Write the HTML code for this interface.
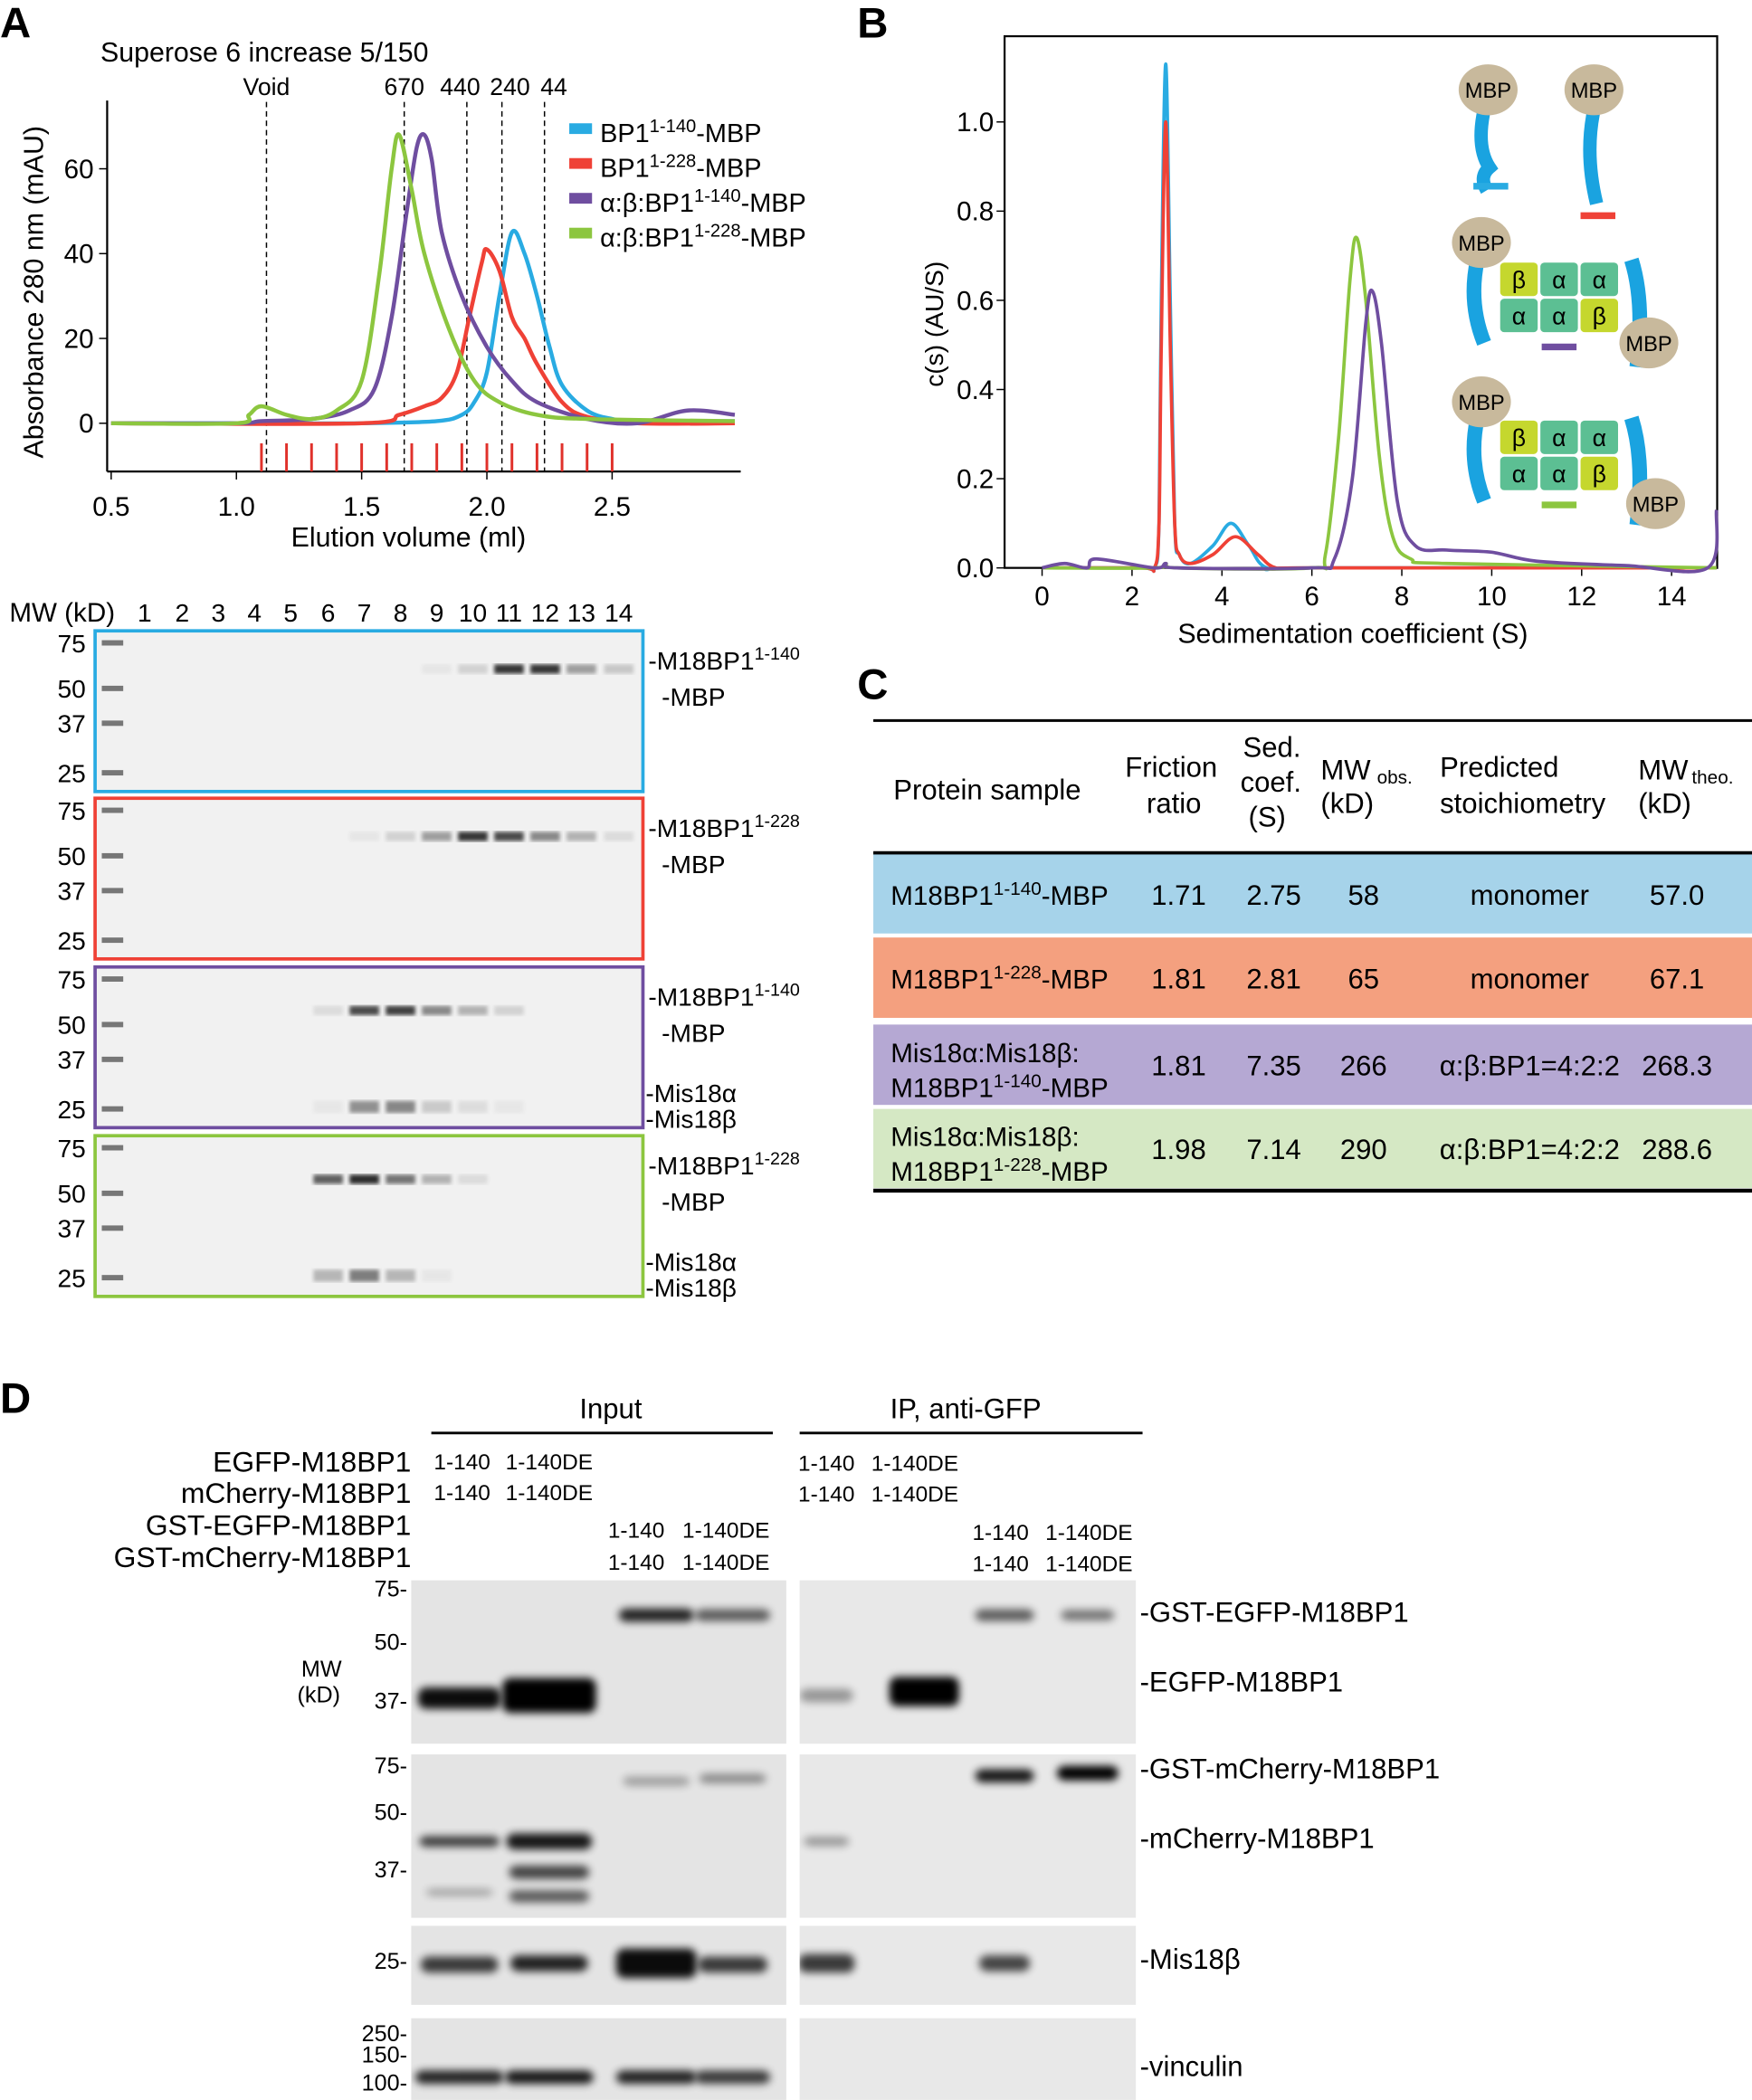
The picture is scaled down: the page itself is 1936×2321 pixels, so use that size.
<!DOCTYPE html>
<html><head><meta charset="utf-8"><style>
html,body{margin:0;padding:0;background:#fff}
svg{display:block;font-family:"Liberation Sans",Arial,sans-serif}
</style></head><body>
<svg id="fig" width="1936" height="2321" viewBox="0 0 1308 1568" xmlns="http://www.w3.org/2000/svg">
<defs><filter id="blur"><feGaussianBlur stdDeviation="1.5"/></filter><filter id="blur2" x="-30%" y="-100%" width="160%" height="300%"><feGaussianBlur stdDeviation="3"/></filter>
<clipPath id="clipIn"><rect x="307" y="1175" width="280" height="400"/></clipPath>
<clipPath id="clipIP"><rect x="597" y="1175" width="251" height="400"/></clipPath></defs>
<g id="panelA"></g>
<g id="panelB"></g>
<g id="gels"></g>
<g id="tableC"></g>
<g id="panelD"></g>
</svg>
<script>
// ---- Panel A data ----
const seriesA_names=["BP1^1-140-MBP","BP1^1-228-MBP","α:β:BP1^1-140-MBP","α:β:BP1^1-228-MBP"];
const seriesA_colors=["#29abe2","#ef4136","#6f4ea0","#8cc63f"];
const blueX=[0.5,1.0,1.5,1.8,1.9,1.95,2.0,2.05,2.1,2.15,2.2,2.25,2.3,2.4,2.5,2.6,2.99];
const blueY=[0,0,0,0.5,2,5,12,30,45,40,30,18,9,3,1,0.5,0.5];
const redX=[0.5,1.5,1.65,1.75,1.82,1.88,1.93,1.98,2.0,2.05,2.1,2.15,2.2,2.3,2.4,2.6,2.99];
const redY=[0,0,2,4,6,12,25,38,41,36,25,20,14,5,1.5,0,0];
const purpleX=[0.5,1.0,1.1,1.3,1.45,1.55,1.62,1.68,1.72,1.75,1.78,1.82,1.9,2.0,2.1,2.2,2.4,2.6,2.8,2.99];
const purpleY=[0,0,0.5,1,3,8,25,50,65,68,62,45,30,18,10,5,1,0,3,2];
const greenX=[0.5,1.0,1.05,1.1,1.2,1.3,1.4,1.5,1.57,1.62,1.65,1.7,1.75,1.85,1.95,2.05,2.2,2.4,2.99];
const greenY=[0,0,2,4,2,1,3,10,35,60,68,55,40,22,10,5,2,1,0.5];
const xTicksA=[0.5,1.0,1.5,2.0,2.5];
const yTicksA=[0,20,40,60];
const markersA=[["Void",1.12],["670",1.67],["440",1.92],["240",2.06],["44",2.23]];
// ---- Panel B data ----
const xTicksB=[0,2,4,6,8,10,12,14];
const yTicksB=[0.0,0.2,0.4,0.6,0.8,1.0];
const bBlueX=[0,2.2,2.5,2.6,2.65,2.75,2.85,2.95,3.05,3.3,3.8,4.2,4.6,5.0,6,15];
const bBlueY=[0,0,0,0.1,0.6,1.13,0.6,0.1,0.03,0.01,0.05,0.1,0.05,0,0,0];
const bRedX=[0,2.2,2.5,2.6,2.65,2.75,2.85,2.95,3.05,3.3,3.8,4.3,4.8,5.2,6,15];
const bRedY=[0,0,0,0.1,0.5,1.0,0.5,0.1,0.03,0.01,0.03,0.07,0.03,0,0,0];
const bGreenX=[0,2.5,2.75,3.0,6,6.3,6.6,6.85,7.0,7.2,7.5,7.8,8.2,9,15];
const bGreenY=[0,0,0.01,0,0,0.03,0.3,0.65,0.74,0.6,0.25,0.07,0.02,0.01,0];
const bPurpleX=[0,0.5,1.0,1.2,2.5,2.75,3.0,6,6.5,6.9,7.2,7.35,7.55,7.9,8.3,9,10,11,13,14.8,15];
const bPurpleY=[0,0.01,0,0.02,0,0.01,0,0,0.02,0.2,0.55,0.62,0.5,0.15,0.05,0.04,0.035,0.015,0.005,0,0.13];

const NS="http://www.w3.org/2000/svg";
function el(parent,tag,attrs,text){const e=document.createElementNS(NS,tag);for(const k in attrs)e.setAttribute(k,attrs[k]);if(text!==undefined)e.textContent=text;parent.appendChild(e);return e;}
function supText(parent,x,y,size,parts,anchor){
  const t=el(parent,"text",{x:x,y:y,"font-size":size,"text-anchor":anchor||"start"});
  parts.forEach(p=>{el(t,"tspan",p[1]?{"font-size":size*0.7,"baseline-shift":"super"}:{},p[0]);});
  return t;}
function smooth(pts){
  let d="M"+pts[0][0].toFixed(1)+","+pts[0][1].toFixed(1);
  for(let i=0;i<pts.length-1;i++){
    const p0=pts[Math.max(i-1,0)],p1=pts[i],p2=pts[i+1],p3=pts[Math.min(i+2,pts.length-1)];
    const c1=[p1[0]+(p2[0]-p0[0])/6,p1[1]+(p2[1]-p0[1])/6],c2=[p2[0]-(p3[0]-p1[0])/6,p2[1]-(p3[1]-p1[1])/6];
    d+="C"+c1[0].toFixed(1)+","+c1[1].toFixed(1)+" "+c2[0].toFixed(1)+","+c2[1].toFixed(1)+" "+p2[0].toFixed(1)+","+p2[1].toFixed(1);
  }
  return d;}
const fig=document.getElementById("fig");
[["A",0,28],["B",640,28],["C",640,522],["D",0,1055]].forEach(l=>{const t=el(fig,"text",{x:l[1],y:l[2],"font-size":32,"font-weight":"bold"},l[0]);

});

// ---- Panel A chart ----
const A=document.getElementById("panelA");
const ax=v=>83+(v-0.5)*187, ay=v=>316-v*3.167;
el(A,"text",{x:75,y:46,"font-size":20.5},"Superose 6 increase 5/150");
el(A,"line",{x1:80,y1:75,x2:80,y2:352,stroke:"#000","stroke-width":1.5});
el(A,"line",{x1:80,y1:352,x2:553,y2:352,stroke:"#000","stroke-width":1.5});
yTicksA.forEach(v=>{el(A,"line",{x1:74,x2:80,y1:ay(v),y2:ay(v),stroke:"#000"});el(A,"text",{x:70,y:ay(v)+7,"font-size":20,"text-anchor":"end"},v);});
xTicksA.forEach(v=>{el(A,"line",{x1:ax(v),x2:ax(v),y1:352,y2:358,stroke:"#000"});el(A,"text",{x:ax(v),y:385,"font-size":20,"text-anchor":"middle"},v.toFixed(1));});
el(A,"text",{x:305,y:408,"font-size":20.5,"text-anchor":"middle"},"Elution volume (ml)");
el(A,"text",{x:32,y:218,"font-size":20.5,"text-anchor":"middle",transform:"rotate(-90 32 218)"},"Absorbance 280 nm (mAU)");
for(let i=0;i<15;i++){const v=1.1+i*0.1;el(A,"line",{x1:ax(v),x2:ax(v),y1:331,y2:352,stroke:"#e0312b","stroke-width":2});}
const markerDx=[0,0,-5,6,7];
markersA.forEach((m,i)=>{el(A,"line",{x1:ax(m[1]),x2:ax(m[1]),y1:76,y2:352,stroke:"#000","stroke-dasharray":"4,3"});el(A,"text",{x:ax(m[1])+markerDx[i],y:71,"font-size":18,"text-anchor":"middle"},m[0]);});
[[blueX,blueY],[redX,redY],[purpleX,purpleY],[greenX,greenY]].forEach((s,i)=>{
  const pts=s[0].map((x,j)=>[ax(x),ay(s[1][j])]);
  const p=el(A,"path",{d:smooth(pts),fill:"none",stroke:seriesA_colors[i],"stroke-width":3,"stroke-linejoin":"round"});
  
  
});
seriesA_names.forEach((n,i)=>{const y=100+i*26;el(A,"rect",{x:425,y:y-8,width:17,height:8,fill:seriesA_colors[i]});
 const parts=n.split("^");const m=parts[1].split("-MBP");supText(A,448,y+6,19.5,[[parts[0],0],[m[0],1],["-MBP",0]]);});

// ---- Panel B chart ----
const B=document.getElementById("panelB");
const bx=v=>778+v*33.57, by=v=>424-v*333;
el(B,"rect",{x:750,y:27,width:532,height:397,fill:"none",stroke:"#000","stroke-width":1.5});
yTicksB.forEach(v=>{el(B,"line",{x1:744,x2:750,y1:by(v),y2:by(v),stroke:"#000"});el(B,"text",{x:742,y:by(v)+7,"font-size":20,"text-anchor":"end"},v.toFixed(1));});
xTicksB.forEach(v=>{el(B,"line",{x1:bx(v),x2:bx(v),y1:424,y2:430,stroke:"#000"});el(B,"text",{x:bx(v),y:452,"font-size":20,"text-anchor":"middle"},v);});
el(B,"text",{x:1010,y:480,"font-size":20.5,"text-anchor":"middle"},"Sedimentation coefficient (S)");
el(B,"text",{x:704,y:242,"font-size":19,"text-anchor":"middle",transform:"rotate(-90 704 242)"},"c(s) (AU/S)");
[[bBlueX,bBlueY,"#29abe2"],[bRedX,bRedY,"#ef4136"],[bGreenX,bGreenY,"#8cc63f"],[bPurpleX,bPurpleY,"#6f4ea0"]].forEach((s,i)=>{
  const pts=s[0].map((x,j)=>[bx(x),by(s[1][j])]);
  const p=el(B,"path",{d:smooth(pts),fill:"none",stroke:s[2],"stroke-width":2.5,"stroke-linejoin":"round"});
  
  
});
function mbp(x,y){el(B,"ellipse",{cx:x,cy:y,rx:22,ry:19,fill:"#c8b99c"});el(B,"text",{x:x,y:y+6,"font-size":16,"text-anchor":"middle"},"MBP");}
el(B,"path",{d:"M1108,82 Q1102,110 1112,125 Q1104,132 1110,142",stroke:"#1aa3e0","stroke-width":10,fill:"none"});
el(B,"path",{d:"M1190,82 Q1183,115 1192,152",stroke:"#1aa3e0","stroke-width":10,fill:"none"});
mbp(1111,67);mbp(1190,67);
el(B,"line",{x1:1100,x2:1126,y1:139,y2:139,stroke:"#29abe2","stroke-width":5});
el(B,"line",{x1:1180,x2:1206,y1:161,y2:161,stroke:"#ef4136","stroke-width":5});
function complex(y0,lineColor){
 el(B,"path",{d:`M1103,${y0-2} Q1096,${y0+30} 1108,${y0+60}`,stroke:"#1aa3e0","stroke-width":11,fill:"none"});
 el(B,"path",{d:`M1218,${y0-2} Q1228,${y0+30} 1222,${y0+78}`,stroke:"#1aa3e0","stroke-width":11,fill:"none"});
 const cells=[["β","#c5d72e",0,0],["α","#5cbf93",1,0],["α","#5cbf93",2,0],["α","#5cbf93",0,1],["α","#5cbf93",1,1],["β","#c5d72e",2,1]];
 cells.forEach(c=>{el(B,"rect",{x:1120+c[2]*30,y:y0+c[3]*27,width:28,height:25,fill:c[1],rx:3});el(B,"text",{x:1134+c[2]*30,y:y0+c[3]*27+19,"font-size":18,"text-anchor":"middle"},c[0]);});
 el(B,"line",{x1:1151,x2:1177,y1:y0+63,y2:y0+63,stroke:lineColor,"stroke-width":5});
}
complex(196,"#6f4ea0");mbp(1106,181);mbp(1231,256);
complex(314,"#8cc63f");mbp(1106,300);mbp(1236,376);

// ---- Gels ----
const G=document.getElementById("gels");
el(G,"text",{x:7,y:464,"font-size":20},"MW (kD)");
const laneX=[108,136,163,190,217,245,272,299,326,353,380,407,434,462];
laneX.forEach((x,i)=>el(G,"text",{x:x,y:464,"font-size":19,"text-anchor":"middle"},i+1));
const gelTops=[471,596,722,848], gelCols=["#29abe2","#ef4136","#6f4ea0","#8cc63f"];
const bandsMain=[[0,0,0,0,0,0,0,0,0.05,0.15,0.9,0.9,0.4,0.2],[0,0,0,0,0,0,0.05,0.15,0.4,0.9,0.8,0.5,0.3,0.1],[0,0,0,0,0,0.1,0.8,0.85,0.5,0.3,0.15,0,0,0],[0,0,0,0,0,0.7,0.95,0.6,0.3,0.1,0,0,0,0]];
const bandsSmall=[[0,0,0,0,0,0,0,0,0,0,0,0,0,0],[0,0,0,0,0,0,0,0,0,0,0,0,0,0],[0,0,0,0,0,0.05,0.5,0.55,0.2,0.1,0.05,0,0,0],[0,0,0,0,0,0.3,0.6,0.3,0.05,0,0,0,0,0]];
const mwLbl=["75","50","37","25"], mwOff=[9,43,69,106];
const labels=[[["M18BP1",0],["1-140",1]],[["M18BP1",0],["1-228",1]],[["M18BP1",0],["1-140",1]],[["M18BP1",0],["1-228",1]]];
gelTops.forEach((t,g)=>{
 el(G,"rect",{x:71,y:t,width:409,height:120,fill:"#f1f1f1",stroke:gelCols[g],"stroke-width":2.5});
 mwOff.forEach((o,k)=>{el(G,"text",{x:64,y:t+o+7,"font-size":19,"text-anchor":"end"},mwLbl[k]);el(G,"rect",{x:76,y:t+o-2,width:16,height:4,fill:"#777"});});
 const mainY=(g<2)?t+28:t+32;
 laneX.forEach((x,i)=>{const a=bandsMain[g][i];if(a>0)el(G,"rect",{x:x-11,y:mainY-3,width:22,height:7,fill:"#222",opacity:a,filter:"url(#blur)"});
  const s=bandsSmall[g][i];if(s>0)el(G,"rect",{x:x-11,y:t+100,width:22,height:9,fill:"#333",opacity:s,filter:"url(#blur)"});});
 supText(G,484,t+29,19,[["-"+labels[g][0][0],0],[labels[g][1][0],1]]);
 el(G,"text",{x:494,y:t+56,"font-size":19},"-MBP");
 if(g>=2){el(G,"text",{x:482,y:t+101,"font-size":19},"-Mis18α");el(G,"text",{x:482,y:t+120,"font-size":19},"-Mis18β");}
});

// ---- Table C ----
const C=document.getElementById("tableC");
el(C,"line",{x1:652,x2:1308,y1:538,y2:538,stroke:"#000","stroke-width":2});
const hdr=[[667,597,"Protein sample"],[840,580,"Friction"],[856,607,"ratio"],[928,565,"Sed."],[926,591,"coef."],[932,617,"(S)"],[986,582,"MW"],[986,607,"(kD)"],[1075,580,"Predicted"],[1075,607,"stoichiometry"],[1223,582,"MW"],[1223,607,"(kD)"]];
hdr.forEach(h=>el(C,"text",{x:h[0],y:h[1],"font-size":21},h[2]));
el(C,"text",{x:1028,y:585,"font-size":14},"obs.");el(C,"text",{x:1263,y:585,"font-size":14},"theo.");
el(C,"line",{x1:652,x2:1308,y1:637,y2:637,stroke:"#000","stroke-width":3});
const rows=[[638,59,"#a6d3ea"],[700,60,"#f4a07f"],[765,60,"#b5a8d3"],[828,59,"#d5e8c4"]];
const rowVals=[["1.71","2.75","58","monomer","57.0"],["1.81","2.81","65","monomer","67.1"],["1.81","7.35","266","α:β:BP1=4:2:2","268.3"],["1.98","7.14","290","α:β:BP1=4:2:2","288.6"]];
rows.forEach((r,i)=>{el(C,"rect",{x:652,y:r[0],width:656,height:r[1],fill:r[2]});
 const cy=r[0]+r[1]/2+8;
 if(i<2)supText(C,665,cy,20,[["M18BP1",0],[i?"1-228":"1-140",1],["-MBP",0]]);
 else{el(C,"text",{x:665,y:cy-10,"font-size":20},"Mis18α:Mis18β:");supText(C,665,cy+16,20,[["M18BP1",0],[i==2?"1-140":"1-228",1],["-MBP",0]]);}
 el(C,"text",{x:880,y:cy,"font-size":21,"text-anchor":"middle"},rowVals[i][0]);
 el(C,"text",{x:951,y:cy,"font-size":21,"text-anchor":"middle"},rowVals[i][1]);
 el(C,"text",{x:1018,y:cy,"font-size":21,"text-anchor":"middle"},rowVals[i][2]);
 el(C,"text",{x:1142,y:cy,"font-size":21,"text-anchor":"middle"},rowVals[i][3]);
 el(C,"text",{x:1252,y:cy,"font-size":21,"text-anchor":"middle"},rowVals[i][4]);});
el(C,"line",{x1:652,x2:1308,y1:889,y2:889,stroke:"#000","stroke-width":3});

// ---- Panel D ----
const D=document.getElementById("panelD");
el(D,"text",{x:456,y:1059,"font-size":21,"text-anchor":"middle"},"Input");
el(D,"text",{x:721,y:1059,"font-size":21,"text-anchor":"middle"},"IP, anti-GFP");
el(D,"line",{x1:322,x2:577,y1:1070,y2:1070,stroke:"#000","stroke-width":2});
el(D,"line",{x1:597,x2:853,y1:1070,y2:1070,stroke:"#000","stroke-width":2});
[["EGFP-M18BP1",1099],["mCherry-M18BP1",1122],["GST-EGFP-M18BP1",1146],["GST-mCherry-M18BP1",1170]].forEach(r=>el(D,"text",{x:307,y:r[1],"font-size":21.5,"text-anchor":"end"},r[0]));
function cond(x0,x1,y){el(D,"text",{x:x0,y:y,"font-size":16.5,"text-anchor":"middle"},"1-140");el(D,"text",{x:x1,y:y,"font-size":16.5,"text-anchor":"middle"},"1-140DE");}
cond(345,410,1097);cond(345,410,1120);cond(475,542,1148);cond(475,542,1172);
cond(617,683,1098);cond(617,683,1121);cond(747,813,1150);cond(747,813,1173);
const blots=[[1180,122],[1310,122],[1438,59],[1507,61]];
blots.forEach(b=>{el(D,"rect",{x:307,y:b[0],width:280,height:b[1],fill:"#e4e4e4"});el(D,"rect",{x:597,y:b[0],width:251,height:b[1],fill:"#e8e8e8"});});
const gIn=el(D,"g",{"clip-path":"url(#clipIn)"}), gIP=el(D,"g",{"clip-path":"url(#clipIP)"});
const bandList=[
[343,1268,62,16,0.95],[410,1266,70,26,1],[490,1206,56,10,0.85],[547,1206,56,9,0.6],
[617,1266,40,10,0.35],[690,1263,52,22,1],[750,1206,44,9,0.6],[812,1206,40,8,0.5],
[343,1375,60,8,0.75],[410,1375,64,12,0.9],[410,1398,60,10,0.7],[410,1416,60,9,0.6],[343,1413,50,5,0.3],[490,1330,50,7,0.3],[547,1328,50,7,0.4],
[617,1375,34,7,0.35],[750,1326,44,10,0.9],[812,1324,46,11,1],
[343,1467,58,12,0.75],[410,1466,58,12,0.85],[490,1466,60,22,0.95],[547,1467,52,12,0.75],[617,1466,42,14,0.75],[750,1466,38,12,0.7],
[343,1551,66,10,0.85],[410,1551,66,10,0.9],[490,1551,60,10,0.85],[547,1551,56,10,0.75]];
bandList.forEach(b=>el(b[0]<592?gIn:gIP,"rect",{x:b[0]-b[2]/2,y:b[1]-b[3]/2,width:b[2],height:b[3],rx:6,fill:"#000",opacity:b[4],filter:"url(#blur2)"}));
[["75-",1192],["50-",1232],["37-",1276],["75-",1324],["50-",1359],["37-",1402],["25-",1470],["250-",1524],["150-",1540],["100-",1561]].forEach(m=>el(D,"text",{x:304,y:m[1],"font-size":17,"text-anchor":"end"},m[0]));
el(D,"text",{x:240,y:1252,"font-size":17,"text-anchor":"middle"},"MW");el(D,"text",{x:238,y:1271,"font-size":17,"text-anchor":"middle"},"(kD)");
[["-GST-EGFP-M18BP1",1211],["-EGFP-M18BP1",1263],["-GST-mCherry-M18BP1",1328],["-mCherry-M18BP1",1380],["-Mis18β",1470],["-vinculin",1550]].forEach(l=>el(D,"text",{x:851,y:l[1],"font-size":21},l[0]));
</script>
</body></html>
